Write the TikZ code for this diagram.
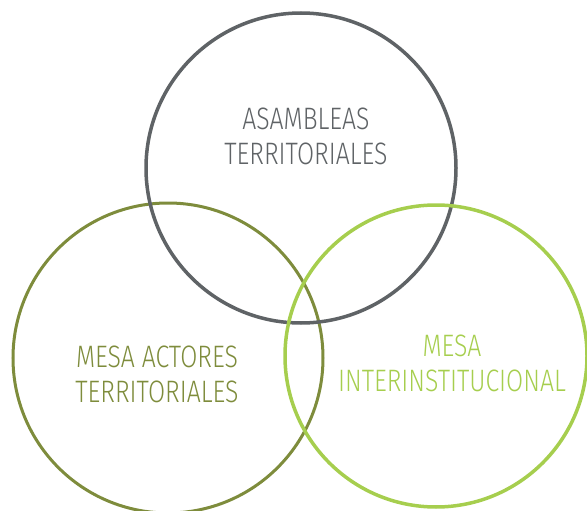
\documentclass[tikz,border=0pt]{standalone}
\usepackage{fontspec}
\setmainfont{Fira Sans Light}[FakeStretch=0.8]
\usepackage{tikz}
\definecolor{mGray}{HTML}{5F6366}
\definecolor{mOlive}{HTML}{7E8C3C}
\definecolor{mLightGreen}{HTML}{A6CE4E}
\tikzstyle{ring} = [circle, line width=3.5pt, fill=none, inner sep=0pt]
\tikzstyle{label} = [align=center, inner sep=0pt, font=\fontsize{31}{35}\selectfont]

\begin{document}
\begin{tikzpicture}[x=1pt,y=-1pt]
    \useasboundingbox (0,0) rectangle (587,511);
    \node (actoresRing) [ring, draw=mOlive, line width=3pt, minimum size=310pt] at (168,358) {};
    \node (asambleasRing) [ring, draw=mGray, minimum size=310pt] at (301,168) {};
    \node (interRing) [ring, draw=mLightGreen, minimum size=302pt] at (436,356) {};

    \node (asambleas) [label, text=mGray] at (306,136) {ASAMBLEAS\\TERRITORIALES};
    \node (actores) [label, text=mOlive] at (157,374) {MESA ACTORES\\TERRITORIALES};
    \node (inter) [label, text=mLightGreen] at (452,363) {MESA\\INTERINSTITUCIONAL};
\end{tikzpicture}
\end{document}
